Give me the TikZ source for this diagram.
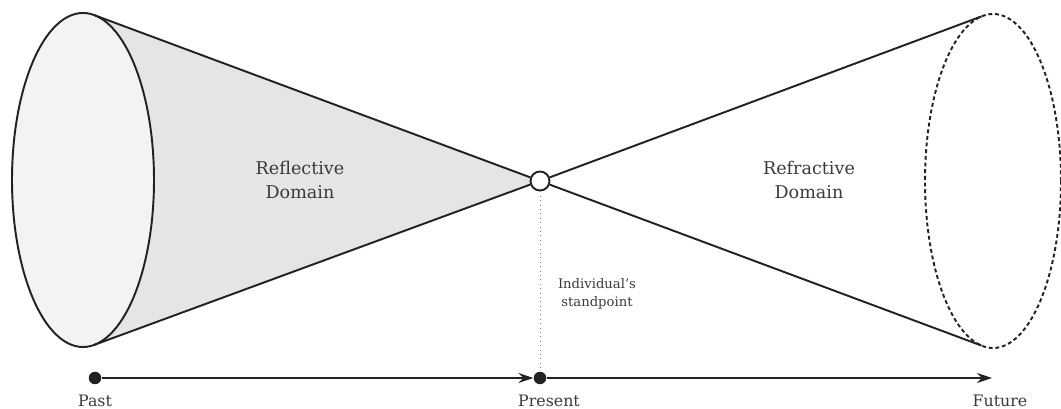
\documentclass[tikz,border=0pt]{standalone}
\usepackage{fontspec}
\setmainfont{DejaVu Serif}
\usepackage{xcolor}
\usepackage{tikz}
\usetikzlibrary{shapes.geometric, arrows.meta, calc, positioning, backgrounds}

\definecolor{conegray}{HTML}{E4E5E7}
\definecolor{facegray}{HTML}{F3F3F3}
\definecolor{inkgray}{HTML}{222222}
\definecolor{textgray}{HTML}{3A3A3A}

\begin{document}
\begin{tikzpicture}[node distance=2cm]

\tikzstyle{disk} = [ellipse, draw=inkgray, line width=1.1pt, inner sep=0pt, outer sep=0pt, minimum height=6.68cm]
\tikzstyle{past disk} = [disk, minimum width=2.84cm, fill=facegray]
\tikzstyle{future disk} = [disk, minimum width=2.72cm, dash pattern=on 2.2pt off 1.6pt]%, fill=facegray]
\tikzstyle{standpoint} = [circle, draw=inkgray, fill=white, line width=1.1pt, minimum size=0.38cm, inner sep=0pt]
\tikzstyle{timedot} = [circle, fill=inkgray, minimum size=0.25cm, inner sep=0pt]
\tikzstyle{domainlabel} = [align=center, text=textgray, font=\fontsize{10}{14}\selectfont]
\tikzstyle{timelabel} = [text=textgray, font=\fontsize{9}{11}\selectfont]
\tikzstyle{notelabel} = [align=center, text=textgray, font=\fontsize{7.5}{10}\selectfont]
\tikzstyle{cone} = [draw=inkgray, line width=1.1pt]
\tikzstyle{arrow} = [line width=1.1pt, draw=inkgray, ->, >={Stealth[length=3mm,width=2mm]}]

\useasboundingbox (0,0) rectangle (21.22,8.18);

\node (pd) [past disk] at (1.66,4.58) {};
\node (apex) [standpoint] at (10.80,4.56) {};
\node (fd) [future disk] at (19.86,4.56) {};

\node (refl) [domainlabel] at (6.00,4.58) {Reflective\\Domain};
\node (refr) [domainlabel] at (16.18,4.58) {Refractive\\Domain};

\node (past) [timedot] at (1.90,0.62) {};
\node (present) [timedot] at (10.80,0.62) {};
\coordinate (future) at (19.84,0.62);

\node (pastlbl) [timelabel, below of = past, node distance=0.46cm] {Past};
\node (presentlbl) [timelabel, below of = present, node distance=0.46cm, xshift=0.18cm] {Present};
\node (futurelbl) [timelabel, below of = future, node distance=0.46cm, xshift=0.16cm] {Future};
\node (stand) [notelabel] at (11.94,2.30) {Individual's\\standpoint};

\begin{scope}[on background layer]
\fill [conegray] (pd.86) -- (apex.center) -- (pd.274) -- cycle;
\end{scope}

\draw [cone] (pd.86) -- (apex);
\draw [cone] (pd.274) -- (apex);
\draw [cone] (apex) -- (fd.94);
\draw [cone] (apex) -- (fd.266);

\draw [gray, dotted, line width=0.5pt] (apex) -- (present);
\draw [arrow] (past) -- (present);
\draw [arrow] (present) -- (future);

\end{tikzpicture}
\end{document}
